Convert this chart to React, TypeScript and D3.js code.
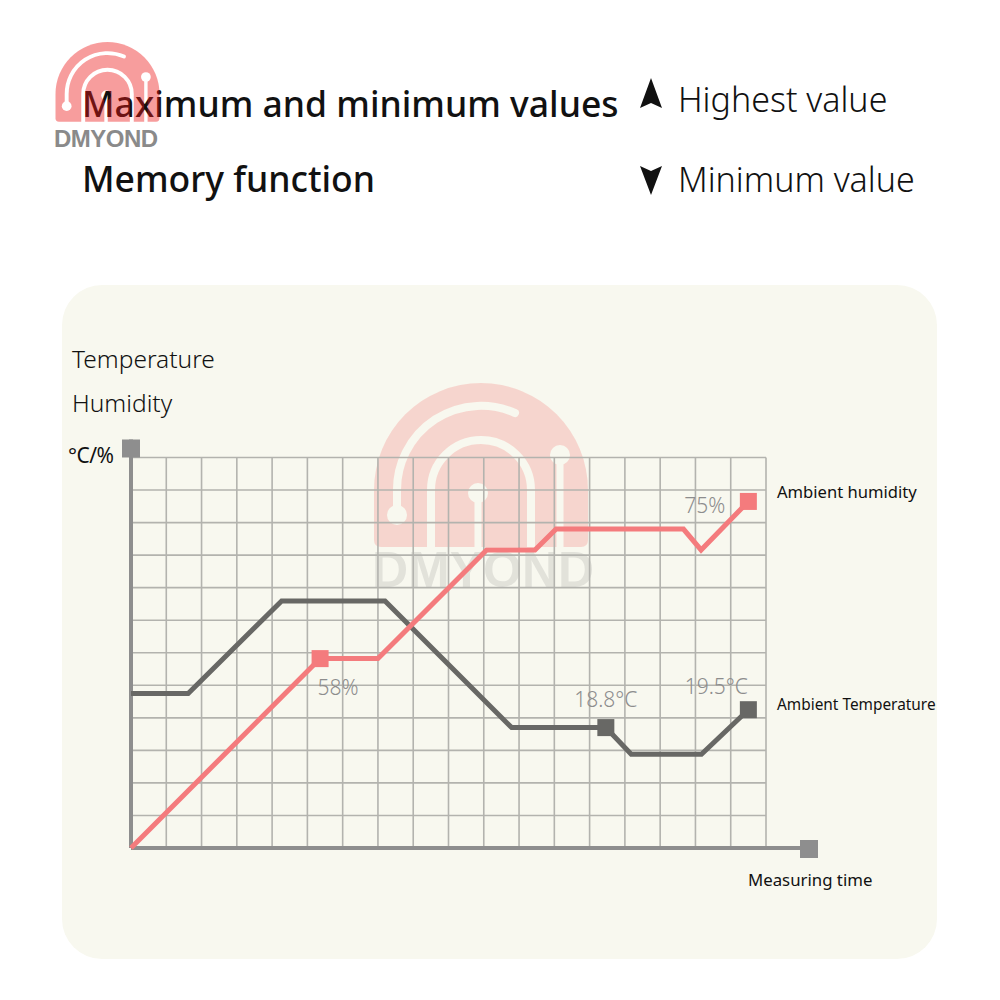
import React from 'react';
import * as d3 from 'd3';

// ---- data (grid units: time steps on x, reading on y) ----
const humidityTime = [0, 5.36, 7.0, 10.08, 11.45, 12.05, 15.66, 16.16, 17.5];
const humidityValue = [0, 5.82, 5.82, 9.16, 9.16, 9.8, 9.8, 9.16, 10.65];
const temperatureTime = [0, 1.62, 4.27, 7.2, 10.79, 13.46, 14.18, 16.17, 17.5];
const temperatureValue = [4.75, 4.75, 7.59, 7.59, 3.7, 3.7, 2.88, 2.88, 4.25];

const humidityMarkerIndex = [1, 8];
const humidityMarkerLabel = ['58%', '75%'];
const temperatureMarkerIndex = [5, 8];
const temperatureMarkerLabel = ['18.8°C', '19.5°C'];

const xGrid = d3.range(0, 19);
const yGrid = d3.range(0, 13);

const seriesNames = ['Ambient humidity', 'Ambient Temperature'];
const titleLines = ['Maximum and minimum values', 'Memory function'];
const legendNotes = ['Highest value', 'Minimum value'];
const yTitle = ['Temperature', 'Humidity'];
const yUnit = '°C/%';
const xTitle = 'Measuring time';
const brand = 'DMYOND';

const PINK = '#f47b7d';
const GRAY = '#686865';
const AXIS = '#8e8e8e';
const GRID = '#b3b3ae';
const LABEL = '#8d8d8d';
const LOGO = '#ee1818';

const x = d3.scaleLinear().domain([0, 18]).range([131, 766]);
const y = d3.scaleLinear().domain([0, 12]).range([848, 457.5]);

const line = d3
  .line<[number, number]>()
  .x((d) => x(d[0]))
  .y((d) => y(d[1]));

const humPts: [number, number][] = humidityTime.map((t, i) => [t, humidityValue[i]]);
const tmpPts: [number, number][] = temperatureTime.map((t, i) => [t, temperatureValue[i]]);

function Logo({ id, cx, cy, s, opacity }: { id: string; cx: number; cy: number; s: number; opacity: number }) {
  const arc1 = 'M -84 25 L -84 0 A 84 84 0 0 1 34 -77';
  const arc2 = 'M -50 60 L -50 0 A 50 50 0 0 1 50 0 L 50 60';
  return (
    <g transform={`translate(${cx},${cy}) scale(${s})`}>
      <defs>
        <mask id={id} maskUnits="userSpaceOnUse" x={-120} y={-120} width={240} height={200}>
          <rect x={-120} y={-120} width={240} height={200} fill="white" />
          <path d={arc1} fill="none" stroke="black" strokeWidth={8} strokeLinecap="round" />
          <circle cx={-84} cy={25} r={10} fill="black" />
          <path d={arc2} fill="none" stroke="black" strokeWidth={8} />
          <circle cx={-3} cy={3} r={10} fill="black" />
          <line x1={-3} y1={3} x2={-3} y2={60} stroke="black" strokeWidth={7} />
          <circle cx={79} cy={-35} r={10} fill="black" />
          <line x1={79} y1={-35} x2={79} y2={60} stroke="black" strokeWidth={7} />
        </mask>
      </defs>
      <path
        d="M -107 50 L -107 0 A 107 107 0 0 1 107 0 L 107 50 Q 107 57 100 57 L -100 57 Q -107 57 -107 50 Z"
        fill={LOGO}
        opacity={opacity}
        mask={`url(#${id})`}
      />
    </g>
  );
}

export default function App() {
  const sq = 17;
  return (
    <svg
      width={1000}
      height={1000}
      viewBox="0 0 1000 1000"
      style={{ position: 'absolute', left: 0, top: 0, display: 'block', background: '#ffffff' }}
    >
      <rect x={0} y={0} width={1000} height={1000} fill="#ffffff" />

      {/* header */}
      <g fontFamily="'Noto Sans', sans-serif" fill="#111">
        <text x={82} y={117} fontSize={35.5} fontWeight={500}>{titleLines[0]}</text>
        <text x={82} y={192} fontSize={35.5} fontWeight={500}>{titleLines[1]}</text>
        <path d="M 651 78 L 662 108 L 651 103 L 640 108 Z" fill="#111" />
        <path d="M 651 195 L 640 166 L 651 171 L 662 166 Z" fill="#111" />
        <text x={678} y={112} fontSize={34} fontWeight={300}>{legendNotes[0]}</text>
        <text x={678} y={192} fontSize={34} fontWeight={300}>{legendNotes[1]}</text>
      </g>
      <Logo id="logoTop" cx={107.5} cy={94} s={0.486} opacity={0.42} />
      <text x={54} y={147} fontFamily="'Liberation Sans', Arial, sans-serif" fontWeight={700} fontSize={24} fill="#8a8a8a" letterSpacing={-0.5}>{brand}</text>

      {/* panel */}
      <rect x={62} y={285} width={875} height={674} rx={40} ry={40} fill="#f8f8ef" />

      {/* watermark */}
      <Logo id="logoWm" cx={481} cy={490} s={1} opacity={0.15} />
      <text x={372} y={587} fontFamily="'Liberation Sans', Arial, sans-serif" fontWeight={700} fontSize={50} fill="#8c8c8c" opacity={0.2}>{brand}</text>

      {/* axis titles */}
      <g fontFamily="'Noto Sans', sans-serif" fill="#111">
        <text x={72} y={368} fontSize={24.5} fontWeight={300}>{yTitle[0]}</text>
        <text x={72} y={412} fontSize={24.5} fontWeight={300}>{yTitle[1]}</text>
        <text x={68} y={463} fontSize={21} fontWeight={400} letterSpacing={-0.5}>{yUnit}</text>
        <text x={748} y={886} fontSize={16.8} fontWeight={400}>{xTitle}</text>
        <text x={777} y={498} fontSize={16.6} fontWeight={400}>{seriesNames[0]}</text>
        <text x={777} y={710} fontSize={15.4} fontWeight={400}>{seriesNames[1]}</text>
      </g>

      {/* grid */}
      <g stroke={GRID} strokeWidth={1.6}>
        {xGrid.map((t) => (
          <line key={'vx' + t} x1={x(t)} x2={x(t)} y1={y(12)} y2={y(0)} />
        ))}
        {yGrid.map((v) => (
          <line key={'hy' + v} x1={x(0)} x2={x(18)} y1={y(v)} y2={y(v)} />
        ))}
      </g>

      {/* axes */}
      <line x1={x(0)} x2={x(0)} y1={y(12) - 18} y2={y(0)} stroke={AXIS} strokeWidth={4} />
      <line x1={x(0)} x2={x(18) + 50} y1={y(0)} y2={y(0)} stroke={AXIS} strokeWidth={4} />
      <rect x={x(0) - 9} y={y(12) - 18} width={18} height={18} fill={AXIS} />
      <rect x={x(18) + 34} y={y(0) - 8} width={18} height={18} fill={AXIS} />

      {/* series */}
      <path d={line(tmpPts) || ''} fill="none" stroke={GRAY} strokeWidth={5} strokeLinejoin="miter" />
      <path d={line(humPts) || ''} fill="none" stroke={PINK} strokeWidth={5} strokeLinejoin="miter" />

      {temperatureMarkerIndex.map((i) => (
        <rect key={'tm' + i} x={x(temperatureTime[i]) - sq / 2} y={y(temperatureValue[i]) - sq / 2} width={sq} height={sq} fill={GRAY} />
      ))}
      {humidityMarkerIndex.map((i) => (
        <rect key={'hm' + i} x={x(humidityTime[i]) - sq / 2} y={y(humidityValue[i]) - sq / 2} width={sq} height={sq} fill={PINK} />
      ))}

      {/* value labels */}
      <g fontFamily="'Noto Sans', sans-serif" fontSize={21} fill={LABEL} fontWeight={300}>
        <text x={x(humidityTime[humidityMarkerIndex[0]]) + 18} y={y(humidityValue[humidityMarkerIndex[0]]) + 36} textAnchor="middle">{humidityMarkerLabel[0]}</text>
        <text x={x(humidityTime[humidityMarkerIndex[1]]) - 23} y={y(humidityValue[humidityMarkerIndex[1]]) + 12} textAnchor="end">{humidityMarkerLabel[1]}</text>
        <text x={x(temperatureTime[temperatureMarkerIndex[0]])} y={y(temperatureValue[temperatureMarkerIndex[0]]) - 21} textAnchor="middle">{temperatureMarkerLabel[0]}</text>
        <text x={x(temperatureTime[temperatureMarkerIndex[1]]) - 32} y={y(temperatureValue[temperatureMarkerIndex[1]]) - 16} textAnchor="middle">{temperatureMarkerLabel[1]}</text>
      </g>
    </svg>
  );
}
